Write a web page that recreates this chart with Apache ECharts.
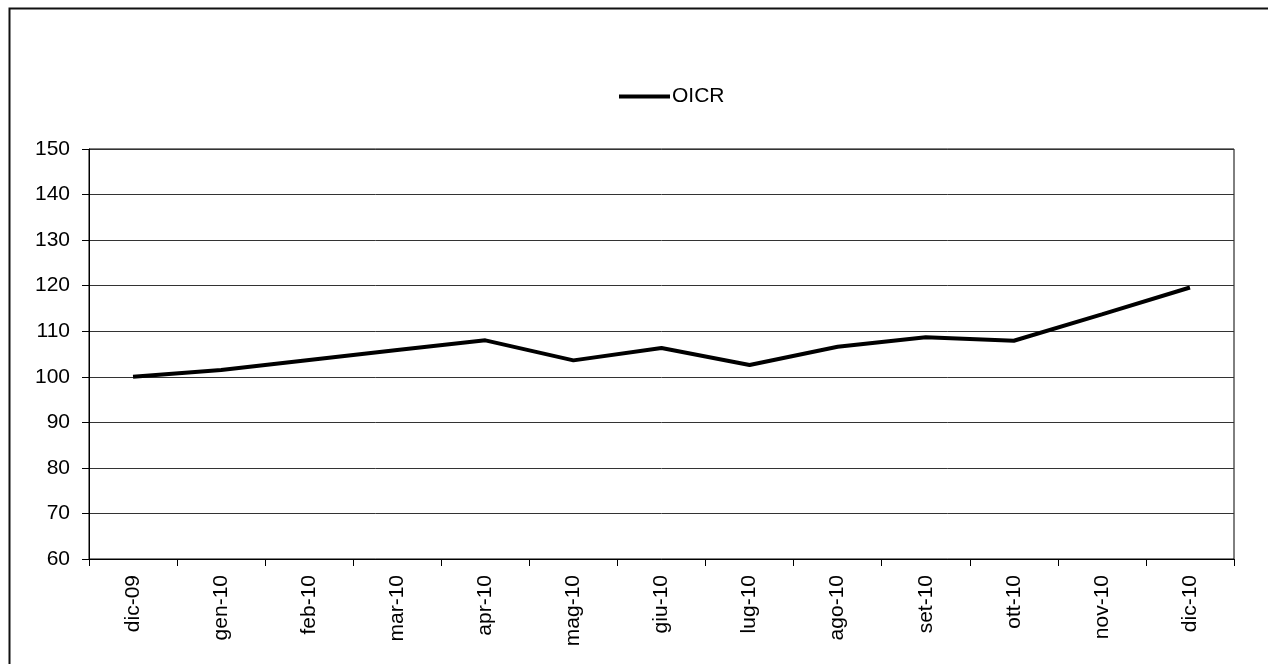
<!DOCTYPE html>
<html>
<head>
<meta charset="utf-8">
<script src="https://cdn.jsdelivr.net/npm/echarts@6/dist/echarts.min.js"></script>
<style>html,body{margin:0;padding:0;background:#fff}#c{width:1268px;height:664px}</style>
</head>
<body>
<div id="c"></div>
<script>
const categories = ['dic-09','gen-10','feb-10','mar-10','apr-10','mag-10','giu-10','lug-10','ago-10','set-10','ott-10','nov-10','dic-10'];
const oicr = [100, 101.5, 103.7, 105.9, 108.0, 103.6, 106.3, 102.6, 106.6, 108.7, 107.9, 113.7, 119.6];
const seriesName = 'OICR';

const font = '"Liberation Sans", Arial, sans-serif';
const chart = echarts.init(document.getElementById('c'), null, {renderer: 'canvas'});
chart.setOption({
  animation: false,
  backgroundColor: '#fff',
  textStyle: {fontFamily: font},
  graphic: [{
    type: 'rect', left: 7, top: 6, shape: {width: 1300, height: 700},
    style: {fill: 'none', stroke: '#111', lineWidth: 2}, silent: true, z: 100
  }],
  legend: {
    data: [seriesName],
    left: 619, top: 86, padding: 0,
    icon: 'rect', itemWidth: 51, itemHeight: 4, itemGap: 10,
    textStyle: {fontFamily: font, fontSize: 21, color: '#000', padding: [0, 0, 0, -3]}
  },
  grid: {left: 89, right: 34, top: 149, bottom: 105, show: true, borderColor: '#000', borderWidth: 1, containLabel: false},
  xAxis: {
    type: 'category', data: categories, boundaryGap: true,
    axisLine: {lineStyle: {color: '#000', width: 1}},
    axisTick: {show: true, inside: false, length: 7, alignWithLabel: false, lineStyle: {color: '#000'}},
    axisLabel: {rotate: 90, margin: 16, fontSize: 21, color: '#000', fontFamily: font, interval: 0},
    splitLine: {show: false}
  },
  yAxis: {
    type: 'value', min: 60, max: 150, interval: 10,
    axisLine: {show: true, lineStyle: {color: '#000', width: 1}},
    axisTick: {show: true, length: 7, lineStyle: {color: '#000'}},
    axisLabel: {margin: 19, fontSize: 21, color: '#000', fontFamily: font},
    splitLine: {show: true, lineStyle: {color: '#333', width: 1}}
  },
  series: [{
    name: seriesName, type: 'line', data: oicr,
    symbol: 'none', smooth: false,
    lineStyle: {color: '#000', width: 4},
    itemStyle: {color: '#000'}
  }]
});
</script>
</body>
</html>
